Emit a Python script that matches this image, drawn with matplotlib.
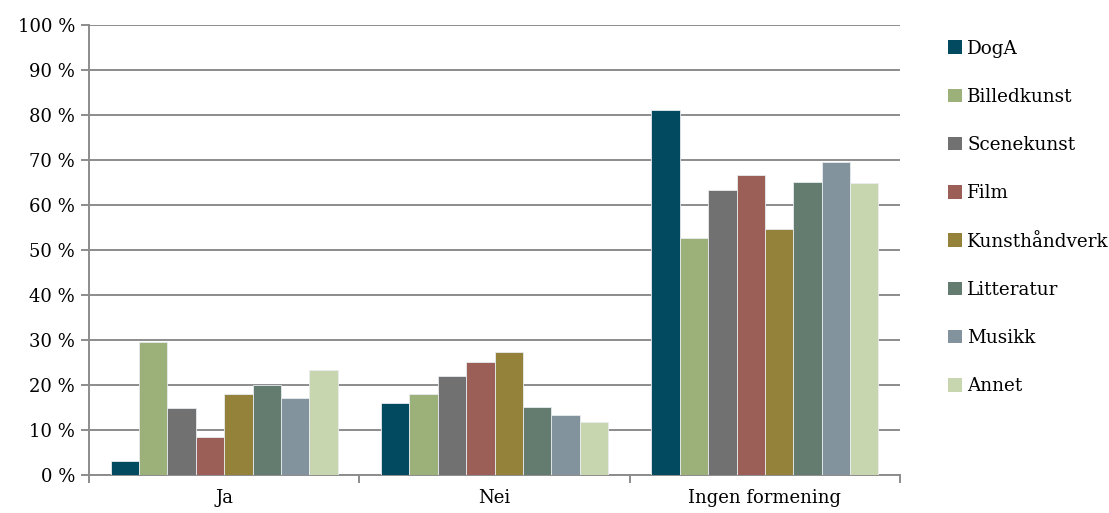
import matplotlib
import numpy as np

matplotlib.use("Agg")
import matplotlib.pyplot as plt
from matplotlib.patches import Patch


CATEGORIES = ["Ja", "Nei", "Ingen formening"]
SERIES = [
    "DogA",
    "Billedkunst",
    "Scenekunst",
    "Film",
    "Kunsthåndverk",
    "Litteratur",
    "Musikk",
    "Annet",
]
DOGA = [3.0, 15.9, 81.1]
BILLEDKUNST = [29.5, 17.9, 52.6]
SCENEKUNST = [14.8, 21.9, 63.3]
FILM = [8.4, 25.0, 66.7]
KUNSTHANDVERK = [18.1, 27.3, 54.6]
LITTERATUR = [20.0, 15.0, 65.0]
MUSIKK = [17.2, 13.3, 69.6]
ANNET = [23.3, 11.7, 64.9]
Y_TICKS = [0, 10, 20, 30, 40, 50, 60, 70, 80, 90, 100]

COLORS = [
    "#024a60",
    "#9cb079",
    "#717171",
    "#9b5f58",
    "#94823b",
    "#637c6f",
    "#83939e",
    "#c8d6af",
]

plt.rcParams["font.family"] = ["DejaVu Serif"]

values = [DOGA, BILLEDKUNST, SCENEKUNST, FILM, KUNSTHANDVERK, LITTERATUR, MUSIKK, ANNET]

fig = plt.figure(figsize=(11.09, 5.13), dpi=100)
ax = fig.add_axes([0.0803, 0.0741, 0.7313, 0.8772])

x = np.arange(len(CATEGORIES))
bar_w = 0.105
n = len(SERIES)
for i, (name, vals, col) in enumerate(zip(SERIES, values, COLORS)):
    offset = (i - (n - 1) / 2) * bar_w
    ax.bar(
        x + offset,
        vals,
        width=bar_w,
        color=col,
        edgecolor="#e8ecef",
        linewidth=0.6,
        label=name,
        zorder=3,
    )

grid_col = "#8c8c8c"
ax.set_ylim(0, 100)
ax.set_xlim(-0.5, 2.5)
ax.set_yticks(Y_TICKS)
ax.set_yticklabels([f"{v} %" for v in Y_TICKS], fontsize=13)
ax.yaxis.grid(True, color=grid_col, linewidth=1.4)
ax.set_axisbelow(True)

ax.set_xticks(x)
ax.set_xticklabels(CATEGORIES, fontsize=13)
ax.tick_params(axis="x", length=0, pad=10)
ax.set_xticks([-0.5, 0.5, 1.5, 2.5], minor=True)
ax.tick_params(axis="x", which="minor", length=6, color=grid_col, width=1.4)
ax.tick_params(axis="y", length=6, color=grid_col, width=1.4, pad=4)

for side in ["top", "right"]:
    ax.spines[side].set_visible(False)
for side in ["left", "bottom"]:
    ax.spines[side].set_color(grid_col)
    ax.spines[side].set_linewidth(1.4)

handles = [Patch(facecolor=c, edgecolor="none") for c in COLORS]
fig.legend(
    handles,
    SERIES,
    loc="upper left",
    bbox_to_anchor=(0.84, 0.955),
    frameon=False,
    fontsize=13.2,
    handlelength=0.75,
    handleheight=0.75,
    handletextpad=0.3,
    labelspacing=1.65,
)

fig.savefig("out.png", dpi=100)
